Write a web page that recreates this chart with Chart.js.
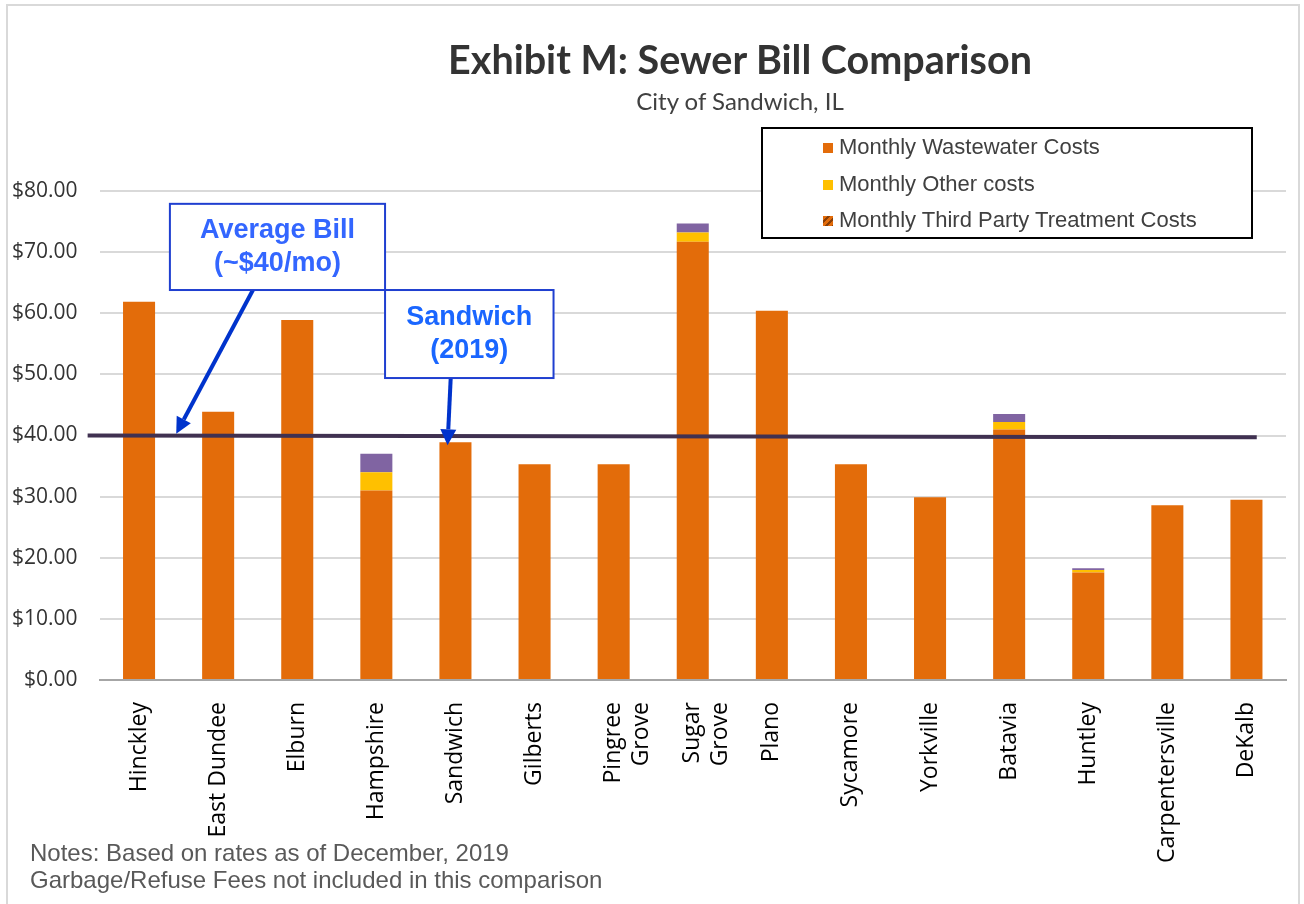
<!DOCTYPE html>
<html>
<head>
<meta charset="utf-8">
<script src="https://cdn.jsdelivr.net/npm/chart.js@4/dist/chart.umd.min.js"></script>
<style>
  body { margin:0; background:#fff; }
  #wrap { position:relative; width:1304px; height:904px; overflow:hidden; }
  #frame { position:absolute; left:6px; top:4px; width:1294px; height:930px; border:2px solid #d9d9d9; box-sizing:border-box; }
  canvas { position:absolute; left:0; top:0; }
  #title { position:absolute; left:390px; width:700px; top:35px; text-align:center; font:bold 39.5px Lato, sans-serif; color:#333; }
  #subtitle { position:absolute; left:440px; width:600px; top:86px; text-align:center; font:24px Lato, sans-serif; color:#404040; }
  #legend { position:absolute; left:761px; top:127px; width:492px; height:112px; border:2px solid #000; box-sizing:border-box; background:#fff;
            font:22px "Liberation Sans", Arial, sans-serif; color:#404040; }
  .row { position:absolute; left:60px; height:26px; line-height:26px; white-space:nowrap; }
  .sw { display:inline-block; width:10px; height:10px; margin-right:6px; vertical-align:1px; }
  #notes { position:absolute; left:30px; top:839px; font:24px "Liberation Sans", Arial, sans-serif; color:#595959; line-height:27px; }
</style>
</head>
<body>
<div id="wrap">
  <canvas id="myChart" width="1304" height="904"></canvas>
  <div id="frame"></div>
  <div id="title">Exhibit M: Sewer Bill Comparison</div>
  <div id="subtitle">City of Sandwich, IL</div>
  <div id="legend"></div>
  <div id="notes">Notes: Based on rates as of December, 2019<br>Garbage/Refuse Fees not included in this comparison</div>
</div>
<script>
// data
let towns = ['Hinckley', 'East Dundee', 'Elburn', 'Hampshire', 'Sandwich', 'Gilberts', ['Pingree', 'Grove'],
  ['Sugar', 'Grove'], 'Plano', 'Sycamore', 'Yorkville', 'Batavia', 'Huntley', 'Carpentersville', 'DeKalb'];
let wastewater = [61.9, 43.9, 58.9, 31.0, 38.9, 35.3, 35.3, 71.7, 60.4, 35.3, 29.9, 41.0, 17.6, 28.6, 29.5];
let otherCosts = [0, 0, 0, 3.0, 0, 0, 0, 1.5, 0, 0, 0, 1.2, 0.4, 0, 0];
let thirdParty = [0, 0, 0, 0, 0, 0, 0, 0, 0, 0, 0, 0, 0, 0, 0];
let extraFees = [0, 0, 0, 3.0, 0, 0, 0, 1.5, 0, 0, 0, 1.3, 0.3, 0, 0];
let yTicks = [0, 10, 20, 30, 40, 50, 60, 70, 80];
let averageBill = [40.0, 39.7];   // left end, right end of the drawn line

let orange = '#e36c0a';
let yellow = '#ffc000';
let purple = '#8064a2';

// hatched fill for third party series
let pc = document.createElement('canvas');
pc.width = 6; pc.height = 6;
let pctx = pc.getContext('2d');
pctx.fillStyle = orange; pctx.fillRect(0, 0, 6, 6);
pctx.strokeStyle = '#8a3f06'; pctx.lineWidth = 2;
pctx.beginPath(); pctx.moveTo(0, 6); pctx.lineTo(6, 0); pctx.stroke();
let hatch = pctx.createPattern(pc, 'repeat');

//legend
let legendItems = [
  ['Monthly Wastewater Costs', orange],
  ['Monthly Other costs', yellow],
  ['Monthly Third Party Treatment Costs', 'repeating-linear-gradient(135deg,' + orange + ' 0 3px,#8a3f06 3px 5px)']
];
let legend = document.getElementById('legend');
legendItems.forEach((it, i) => {
  let row = document.createElement('div');
  row.className = 'row';
  row.style.top = (5 + i * 36.5) + 'px';
  row.innerHTML = '<span class="sw" style="background:' + it[1] + '"></span>' + it[0];
  legend.appendChild(row);
});

// callouts, placed in data units (x = category index, y = dollars)
let callouts = [
  { box: [0.39, 3.11, 77.9, 63.8], lines: ['Average Bill', '(~$40/mo)'], color: '#3366ff', from: [1.44, 63.8], to: [0.47, 40.3] },
  { box: [3.11, 5.24, 63.8, 49.4], lines: ['Sandwich', '(2019)'], color: '#1a66ff', from: [3.94, 49.4], to: [3.90, 38.4] }
];

function arrow(ctx, x1, y1, x2, y2) {
  let a = Math.atan2(y2 - y1, x2 - x1);
  let hl = 16, hw = 8;
  let bx = x2 - hl * Math.cos(a), by = y2 - hl * Math.sin(a);
  ctx.beginPath();
  ctx.moveTo(x1, y1); ctx.lineTo(bx, by);
  ctx.stroke();
  ctx.beginPath();
  ctx.moveTo(x2, y2);
  ctx.lineTo(bx + hw * Math.sin(a), by - hw * Math.cos(a));
  ctx.lineTo(bx - hw * Math.sin(a), by + hw * Math.cos(a));
  ctx.closePath();
  ctx.fill();
}

let calloutPlugin = {
  id: 'callouts',
  afterDatasetsDraw(chart) {
    let ctx = chart.ctx;
    let xs = chart.scales.x2, ys = chart.scales.y;
    ctx.save();
    callouts.forEach(c => {
      let l = xs.getPixelForValue(c.box[0]), r = xs.getPixelForValue(c.box[1]);
      let t = ys.getPixelForValue(c.box[2]), b = ys.getPixelForValue(c.box[3]);
      ctx.strokeStyle = '#0033cc'; ctx.fillStyle = '#0033cc'; ctx.lineWidth = 4;
      arrow(ctx, xs.getPixelForValue(c.from[0]), ys.getPixelForValue(c.from[1]),
        xs.getPixelForValue(c.to[0]), ys.getPixelForValue(c.to[1]));
      ctx.fillStyle = '#fff';
      ctx.fillRect(l, t, r - l, b - t);
      ctx.lineWidth = 2; ctx.strokeStyle = '#1f3fd0';
      ctx.strokeRect(l, t, r - l, b - t);
      ctx.fillStyle = c.color;
      ctx.font = 'bold 27px "Liberation Sans", Arial, sans-serif';
      ctx.textAlign = 'center'; ctx.textBaseline = 'middle';
      let cx = (l + r) / 2, cy = (t + b) / 2;
      ctx.fillText(c.lines[0], cx, cy - 16);
      ctx.fillText(c.lines[1], cx, cy + 17);
    });
    ctx.restore();
  }
};

var ctx = document.getElementById('myChart').getContext('2d');
var chart = new Chart(ctx, {
  data: {
    labels: towns,
    datasets: [
      { type: 'bar', label: 'Monthly Wastewater Costs', data: wastewater, backgroundColor: orange, order: 1, stack: 'bill' },
      { type: 'bar', label: 'Monthly Other costs', data: otherCosts, backgroundColor: yellow, order: 1, stack: 'bill' },
      { type: 'bar', label: 'Monthly Third Party Treatment Costs', data: thirdParty, backgroundColor: hatch, order: 1, stack: 'bill' },
      { type: 'bar', label: 'Monthly Other Fees', data: extraFees, backgroundColor: purple, order: 1, stack: 'bill' },
      { type: 'line', label: 'Average Bill', xAxisID: 'x2', order: 0,
        data: [{ x: -0.65, y: averageBill[0] }, { x: 14.13, y: averageBill[1] }],
        borderColor: '#403151', borderWidth: 4, pointRadius: 0, clip: false, fill: false }
    ]
  },
  options: {
    responsive: false,
    animation: false,
    layout: { padding: { left: 0, right: 18, top: 191, bottom: 0 } },
    plugins: { legend: { display: false }, title: { display: false }, tooltip: { enabled: false } },
    datasets: { bar: { categoryPercentage: 1, barPercentage: 0.405, grouped: false } },
    scales: {
      x: {
        stacked: true,
        grid: { display: false, drawTicks: false },
        border: { color: '#a6a6a6', width: 2 },
        ticks: { autoSkip: false, minRotation: 90, maxRotation: 90, padding: 22, color: '#000',
          font: { family: 'Open Sans', size: 23 } },
        afterFit: s => { s.height = 224; }
      },
      x2: { type: 'linear', display: false, min: -0.5, max: 14.5 },
      y: {
        stacked: true, min: 0, max: 80,
        afterBuildTicks: s => { s.ticks = yTicks.map(v => ({ value: v })); },
        grid: { color: '#d9d9d9', lineWidth: 2, drawTicks: false },
        border: { display: false },
        ticks: { padding: 22, color: '#333', font: { family: 'Open Sans', size: 21 },
          callback: v => '$' + v.toFixed(2) },
        afterFit: s => { s.width = 99.5; }
      }
    }
  },
  plugins: [calloutPlugin]
});
</script>
</body>
</html>
